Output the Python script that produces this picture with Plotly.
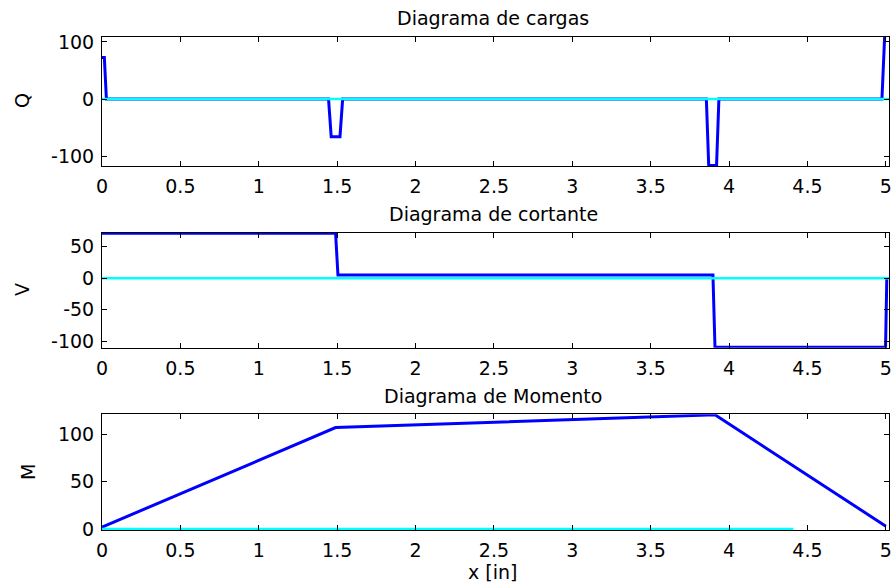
import plotly.graph_objects as go

# ---- data ----
x_ticks = [0, 0.5, 1, 1.5, 2, 2.5, 3, 3.5, 4, 4.5, 5]
x_tick_labels = ["0", "0.5", "1", "1.5", "2", "2.5", "3", "3.5", "4", "4.5", "5"]

# Diagrama de cargas (Q)
q_x = [0, 0.015, 0.028, 1.445, 1.462, 1.518, 1.535, 3.855, 3.870, 3.920, 3.935, 4.975, 4.992, 5.0]
q_v = [73, 73, 0, 0, -66, -66, 0, 0, -116.3, -116.3, 0, 0, 108, 108]

# Diagrama de cortante (V)
v_x = [0, 1.49, 1.505, 3.897, 3.91, 4.998, 5.006]
v_v = [71, 71, 5, 5, -109, -109, 0]

# Diagrama de Momento (M)
m_x = [0, 1.49, 3.91, 5.0]
m_v = [2, 107, 120.5, 3]

# cyan reference lines (zero)
base_x = [0, 5.02]
base_y = [0, 0]
m_base_x = [0, 4.41]
m_base_y = [0, 0]

q_ticks = [-100, 0, 100]
q_tick_labels = ["-100", "0", "100"]
v_ticks = [-100, -50, 0, 50]
v_tick_labels = ["-100", "-50", "0", "50"]
m_ticks = [0, 50, 100]
m_tick_labels = ["0", "50", "100"]

BLUE = "#0000FF"
CYAN = "#00FFFF"
FONT = "DejaVu Sans"
FS = 19

fig = go.Figure()

def add(xs, ys, color, width, k):
    fig.add_trace(go.Scatter(x=xs, y=ys, mode="lines",
                             line=dict(color=color, width=width),
                             xaxis="x" if k == 1 else f"x{k}",
                             yaxis="y" if k == 1 else f"y{k}",
                             showlegend=False, hoverinfo="skip"))

add(q_x, q_v, BLUE, 3, 1)
add(base_x, base_y, CYAN, 2.5, 1)
add(v_x, v_v, BLUE, 3, 2)
add(base_x, base_y, CYAN, 2.5, 2)
add(m_x, m_v, BLUE, 3, 3)
add(m_base_x, m_base_y, CYAN, 2.5, 3)

axis_common = dict(showline=True, linecolor="#000000", linewidth=1, mirror="ticks",
                   ticks="inside", ticklen=5, tickwidth=1, tickcolor="#000000",
                   showgrid=False, zeroline=False, automargin=False,
                   ticklabeloverflow="allow",
                   tickfont=dict(family=FONT, size=FS, color="#000000"))

# domains from pixel positions
H_TOP, H_BOT = 37, 530
def dom(top_px, bot_px):
    h = H_BOT - H_TOP
    return [(H_BOT - bot_px) / h, (H_BOT - top_px) / h]

doms = [dom(37, 166), dom(232.7, 347.7), dom(414.3, 530)]
yranges = [[-117.3, 108.7], [-109.8, 71.8], [-1.0, 121.0]]
yticks = [q_ticks, v_ticks, m_ticks]
ytext = [q_tick_labels, v_tick_labels, m_tick_labels]

layout = dict(width=893, height=584, paper_bgcolor="white", plot_bgcolor="white",
              margin=dict(l=102, r=4, t=37, b=54, autoexpand=False), showlegend=False)

for i in range(3):
    k = i + 1
    xa = "xaxis" if k == 1 else f"xaxis{k}"
    ya = "yaxis" if k == 1 else f"yaxis{k}"
    layout[xa] = dict(axis_common, range=[0, 5.02], tickvals=x_ticks, ticktext=x_tick_labels,
                      anchor="y" if k == 1 else f"y{k}", domain=[0, 1],
                      ticklabelstandoff=3)
    layout[ya] = dict(axis_common, range=yranges[i], tickvals=yticks[i], ticktext=ytext[i],
                      anchor="x" if k == 1 else f"x{k}", domain=doms[i],
                      ticklabelstandoff=3)

fig.update_layout(**layout)

def ypaper(px):
    return (H_BOT - px) / (H_BOT - H_TOP)

def xpaper(px):
    return (px - 102) / 787

ann = []
for text, ypx in [("Diagrama de cargas", 18), ("Diagrama de cortante", 214), ("Diagrama de Momento", 396)]:
    ann.append(dict(text=text, x=xpaper(493), y=ypaper(ypx), xref="paper", yref="paper",
                    xanchor="center", yanchor="middle", showarrow=False,
                    font=dict(family=FONT, size=FS, color="#000000")))
for text, xpx, ypx in [("Q", 22, 101), ("V", 22, 290), ("M", 28, 472)]:
    ann.append(dict(text=text, x=xpaper(xpx), y=ypaper(ypx), xref="paper", yref="paper",
                    xanchor="center", yanchor="middle", showarrow=False, textangle=-90,
                    font=dict(family=FONT, size=FS, color="#000000")))
ann.append(dict(text="x [in]", x=xpaper(492), y=ypaper(572), xref="paper", yref="paper",
                xanchor="center", yanchor="middle", showarrow=False,
                font=dict(family=FONT, size=FS, color="#000000")))
fig.update_layout(annotations=ann)

fig.write_html("out.html", config={"displayModeBar": False},
               post_script="document.body.style.margin='0px';")
